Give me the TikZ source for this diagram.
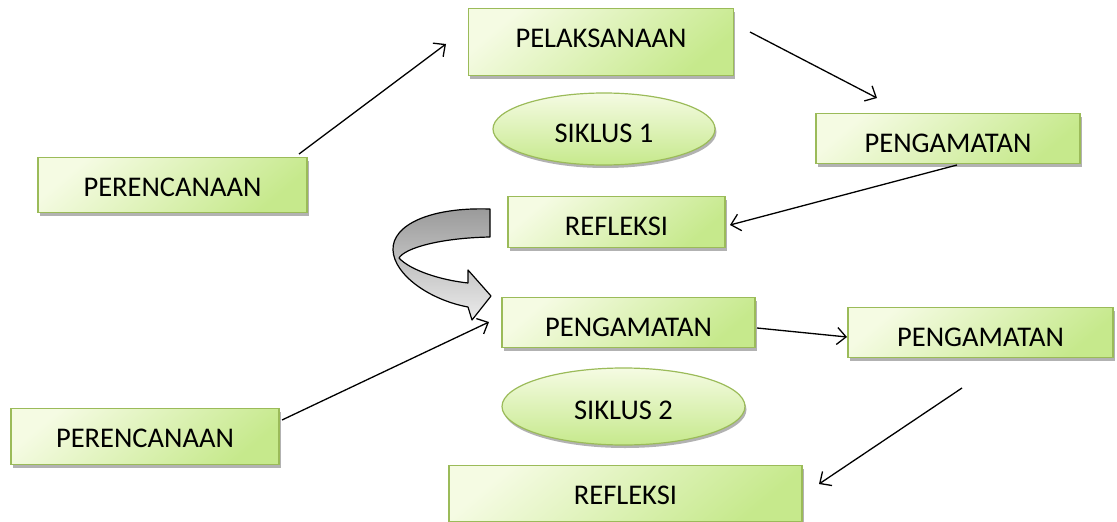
\documentclass[tikz,border=0pt]{standalone}
\usepackage{fontspec}
\setmainfont{Carlito}
\usetikzlibrary{shapes.geometric,arrows.meta,shadows}
\definecolor{boxline}{HTML}{9BBB59}
\definecolor{boxlight}{HTML}{F5FBE3}
\definecolor{boxdark}{HTML}{C6E98C}
\tikzset{
  stage/.style={draw=boxline, line width=1.2pt, top color=boxlight, bottom color=boxdark, shading angle=40,
    drop shadow={shadow xshift=1.5pt, shadow yshift=-3pt, opacity=0.3, fill=black},
    inner ysep=0pt, text height=38.4pt, text depth=#1, anchor=north, font=\fontsize{28.5}{34}\selectfont},
  siklus/.style={ellipse, draw=boxline, line width=1.2pt, top color=boxlight, bottom color=boxdark,
    drop shadow={shadow xshift=1.5pt, shadow yshift=-3pt, opacity=0.3, fill=black},
    inner sep=0pt, text height=26pt, text depth=0pt, font=\fontsize{28.5}{34}\selectfont},
  flow/.style={line width=1.3pt, -{Straight Barb[length=9pt, width=17pt, line width=1.3pt]}}
}
\begin{document}
\begin{tikzpicture}[x=1pt, y=-1pt]
\useasboundingbox (0,0) rectangle (1117,522);

\node[stage=28.6pt, minimum width=265pt] (pel) at (601,8) {PELAKSANAAN};
\node[stage=11.6pt, minimum width=264pt] (pengA) at (948,113) {PENGAMATAN};
\node[stage=16.6pt, minimum width=269pt] (pere1) at (172.5,157) {PERENCANAAN};
\node[stage=12.6pt, minimum width=217pt] (ref1) at (616.5,196) {REFLEKSI};
\node[siklus, minimum width=222pt, minimum height=72pt] (s1) at (604,129) {SIKLUS 1};

\node[stage=11.6pt, minimum width=253pt] (pengB) at (628.5,297) {PENGAMATAN};
\node[stage=11.6pt, minimum width=265pt] (pengC) at (980.5,307) {PENGAMATAN};
\node[stage=17.6pt, minimum width=268pt] (pere2) at (145,408) {PERENCANAAN};
\node[stage=17.6pt, minimum width=353pt] (ref2) at (625.5,465) {REFLEKSI};
\node[siklus, minimum width=243pt, minimum height=77pt] (s2) at (623.5,406.5) {SIKLUS 2};

\coordinate (a1) at (299,154);
\coordinate (b1) at (446,44);
\coordinate (a2) at (750,32);
\coordinate (b2) at (877,98);
\coordinate (a3) at (957,165);
\coordinate (b3) at (730,225);
\coordinate (a4) at (282,420);
\coordinate (b4) at (489,322);
\coordinate (a5) at (757,328);
\coordinate (b5) at (847,337);
\coordinate (a6) at (962,388);
\coordinate (b6) at (819,484);
\draw[flow] (a1) -- (b1);
\draw[flow] (a2) -- (b2);
\draw[flow] (a3) -- (b3);
\draw[flow] (a4) -- (b4);
\draw[flow] (a5) -- (b5);
\draw[flow] (a6) -- (b6);

% turn arrow between the two cycles
\draw[line width=1.2pt, line join=round, top color=gray!80, bottom color=gray!15]
  (490,209) .. controls (430,207) and (392,225) .. (393,250)
  .. controls (394,275) and (430,300) .. (468,307)
  -- (472,320) -- (491,296) -- (468,270) -- (468,283)
  .. controls (440,280) and (410,270) .. (399,258)
  .. controls (405,248) and (440,238) .. (490,237) -- cycle;
\end{tikzpicture}
\end{document}
